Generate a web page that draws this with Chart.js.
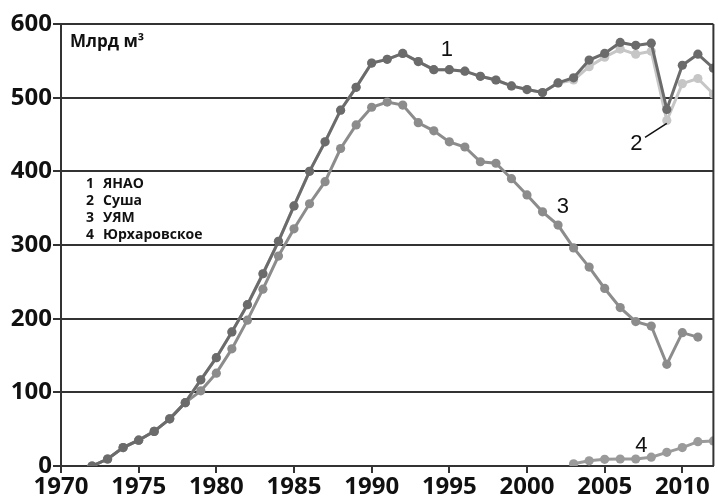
<!DOCTYPE html>
<html>
<head>
<meta charset="utf-8">
<script src="https://cdn.jsdelivr.net/npm/chart.js@4/dist/chart.umd.min.js"></script>
<style>
  html, body { margin: 0; padding: 0; background: #fff; }
  #wrap { width: 718px; height: 498px; position: relative; }
</style>
</head>
<body>
<div id="wrap"><canvas id="c" width="718" height="498"></canvas></div>
<script>
// ---- data ----
const years = [1972,1973,1974,1975,1976,1977,1978,1979,1980,1981,1982,1983,1984,1985,1986,1987,1988,1989,1990,1991,1992,1993,1994,1995,1996,1997,1998,1999,2000,2001,2002,2003,2004,2005,2006,2007,2008,2009,2010,2011,2012];
const yanao = [0,9.5,25,35,47,64,86,117,147,182,219,261,305,353,400,440,483,514,547,552,560,549,538,538,536,529,524,516,511,507,520,527,551,560,575,571,574,484,544,559,540];
const susha = [0,9.5,25,35,47,64,86,117,147,182,219,261,305,353,400,440,483,514,547,552,560,549,538,538,536,529,524,516,511,507,520,524,542,555,566,559,563,469,519,526,505];
const uyam  = [0,9.5,25,35,47,64,86,102,126,159,198,240,285,322,356,386,431,463,487,494,490,466,455,440,433,413,411,390,368,345,327,296,270,241,215,196,190,138,181,175,null];
const yurkh = [null,null,null,null,null,null,null,null,null,null,null,null,null,null,null,null,null,null,null,null,null,null,null,null,null,null,null,null,null,null,null,3,7,9,9.5,9.5,12,18.5,25,33,34];
const xTicks = [1970,1975,1980,1985,1990,1995,2000,2005,2010];
const yTicks = [0,100,200,300,400,500,600];
const legendItems = ['1  ЯНАО','2  Суша','3  УЯМ','4  Юрхаровское'];
const unitLabel = 'Млрд м³';
const seriesLabels = [
  {text:'1', x:1994.84, y:556},
  {text:'2', x:2007.04, y:429},
  {text:'3', x:2002.31, y:343},
  {text:'4', x:2007.36, y:19}
];

const pts = arr => years.map((yr,i) => ({x: yr, y: arr[i]}));

function ds(label, arr, color) {
  return {
    label, data: pts(arr),
    borderColor: color, backgroundColor: color,
    pointBackgroundColor: color, pointBorderColor: color,
    borderWidth: 3, pointRadius: 4.6, pointBorderWidth: 0,
    tension: 0, spanGaps: false
  };
}

const overlay = {
  id: 'overlay',
  afterDraw(chart) {
    const {ctx, chartArea: a, scales: {x, y}} = chart;
    ctx.save();
    ctx.strokeStyle = '#333';
    ctx.lineWidth = 2;
    ctx.beginPath();
    ctx.moveTo(a.right, a.top); ctx.lineTo(a.right, a.bottom);
    ctx.stroke();
    ctx.fillStyle = '#111';
    ctx.textAlign = 'left';
    ctx.textBaseline = 'alphabetic';
    ctx.font = 'bold 17px "Open Sans"';
    ctx.fillText(unitLabel, a.left + 9, a.top + 23);
    ctx.font = 'bold 14px "Open Sans"';
    legendItems.forEach((t, i) => {
      const parts = t.split('  ');
      ctx.fillText(parts[0], a.left + 25, a.top + 164 + i * 17);
      ctx.fillText(parts[1], a.left + 42, a.top + 164 + i * 17);
    });
    ctx.font = '22px "Liberation Sans"';
    ctx.textAlign = 'center';
    seriesLabels.forEach(l => {
      ctx.fillText(l.text, x.getPixelForValue(l.x), y.getPixelForValue(l.y));
    });
    ctx.strokeStyle = '#111';
    ctx.lineWidth = 1.5;
    ctx.beginPath();
    ctx.moveTo(x.getPixelForValue(2007.6), y.getPixelForValue(446));
    ctx.lineTo(x.getPixelForValue(2009.0), y.getPixelForValue(465));
    ctx.stroke();
    ctx.restore();
  }
};

new Chart(document.getElementById('c'), {
  type: 'line',
  data: {
    datasets: [
      ds('ЯНАО', yanao, '#6b6b6b'),
      ds('УЯМ', uyam, '#8c8c8c'),
      ds('Суша', susha, '#c6c6c6'),
      ds('Юрхаровское', yurkh, '#9a9a9a')
    ]
  },
  options: {
    responsive: false,
    animation: false,
    devicePixelRatio: 1,
    layout: { padding: { top: 24, right: 1, left: 0, bottom: 0 } },
    plugins: { legend: { display: false }, tooltip: { enabled: false } },
    scales: {
      x: {
        type: 'linear', min: 1970, max: 2012,
        afterBuildTicks: s => { s.ticks = xTicks.map(v => ({value: v})); },
        afterFit: s => { s.height = 32; },
        ticks: { color: '#111', font: { family: '"Open Sans"', weight: 'bold', size: 24 }, padding: 0, maxRotation: 0, autoSkip: false,
                 callback: v => String(v) },
        grid: { drawOnChartArea: false, drawTicks: true, tickLength: 7, color: '#333', lineWidth: 2 },
        border: { display: true, color: '#333', width: 2 }
      },
      y: {
        min: 0, max: 600,
        afterBuildTicks: s => { s.ticks = yTicks.map(v => ({value: v})); },
        afterFit: s => { s.width = 61; },
        ticks: { color: '#111', font: { family: '"Open Sans"', weight: 'bold', size: 24 }, padding: 1,
                 callback: v => String(v) },
        grid: { color: '#333', lineWidth: 2, tickLength: 8, drawTicks: true },
        border: { display: true, color: '#333', width: 2 }
      }
    }
  },
  plugins: [overlay]
});
</script>
</body>
</html>
